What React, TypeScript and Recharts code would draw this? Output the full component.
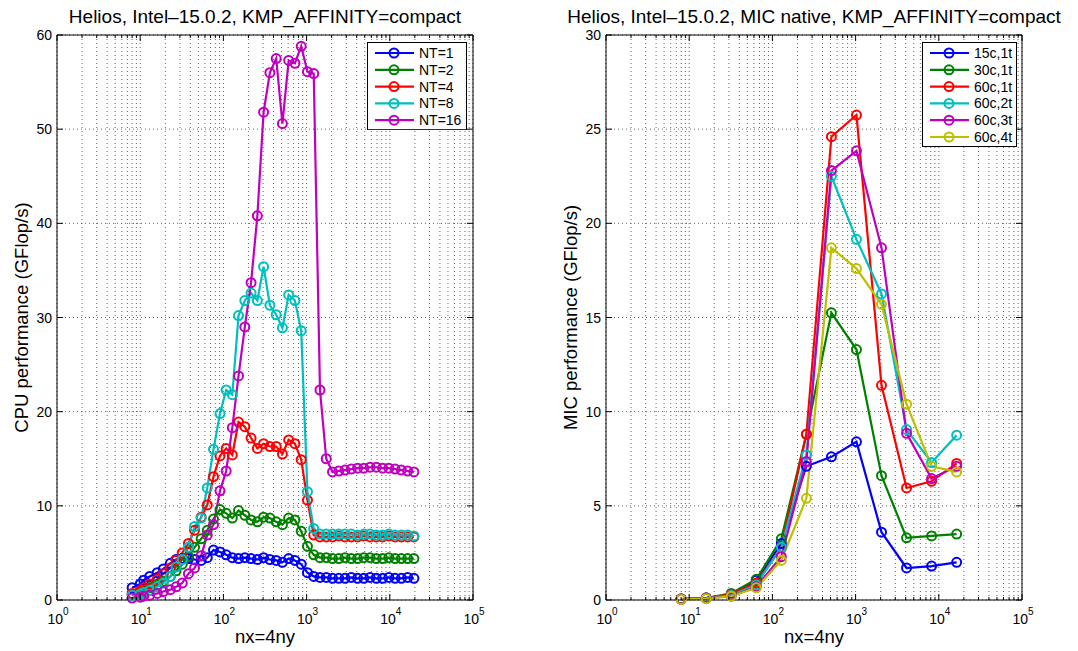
import { LineChart, Line, XAxis, YAxis, CartesianGrid, Legend } from 'recharts'

const FONT = '"Liberation Sans", Arial, Helvetica, sans-serif'

// CPU runs: nx grid (nx = 4 ny)
const cpuNx = [
  8, 10, 11, 13, 16, 19, 23, 27, 32, 38, 45, 54, 64, 76, 91, 108, 128, 152, 181, 215, 256, 304, 362, 431,
  512, 609, 724, 861, 1024, 1218, 1448, 1722, 2048, 2436, 2896, 3444, 4096, 4871, 5793, 6889, 8192, 9742,
  11585, 13777, 16384, 19484,
]
const nt1 = [
  1.3, 1.7, 2.1, 2.5, 2.9, 3.3, 3.9, 4.3, 4.4, 4.4, 4.3, 4.2, 4.5, 5.3, 5.1, 4.8, 4.5, 4.4, 4.5, 4.4, 4.3, 4.5,
  4.3, 4.2, 4.0, 4.4, 4.2, 3.8, 2.9, 2.5, 2.4, 2.4, 2.3, 2.3, 2.3, 2.4, 2.3, 2.3, 2.4, 2.3, 2.3, 2.4, 2.3, 2.3,
  2.4, 2.3,
]
const nt2 = [
  0.6, 0.8, 1.0, 1.3, 1.6, 2.0, 2.5, 3.1, 3.8, 4.6, 5.6, 6.5, 7.4, 8.6, 9.6, 9.2, 8.7, 9.5, 9.0, 8.5, 8.3, 8.8,
  8.7, 8.3, 8.0, 8.7, 8.5, 7.3, 5.7, 4.8, 4.5, 4.5, 4.4, 4.4, 4.5, 4.4, 4.4, 4.5, 4.5, 4.4, 4.4, 4.5, 4.4, 4.4,
  4.4, 4.4,
]
const nt4 = [
  0.7, 1.0, 1.3, 1.7, 2.2, 2.8, 3.4, 4.2, 5.0, 6.0, 7.4, 8.8, 10.1, 13.1, 15.3, 16.1, 15.4, 18.9, 18.4, 17.2,
  16.1, 16.6, 16.3, 16.3, 15.5, 17.0, 16.6, 14.9, 10.6, 6.9, 6.7, 6.7, 6.7, 6.8, 6.7, 6.7, 6.7, 6.8, 6.7, 6.7,
  6.7, 6.8, 6.7, 6.7, 6.7, 6.7,
]
const nt8 = [
  0.5, 0.6, 0.8, 1.0, 1.4, 1.8, 2.5, 3.5, 4.3, 5.6, 7.8, 8.7, 11.9, 16.0, 19.8, 22.3, 21.8, 30.2, 31.8, 32.6,
  31.8, 35.4, 31.3, 30.3, 28.9, 32.4, 31.8, 28.6, 11.5, 7.6, 7.0, 7.0, 7.0, 7.0, 7.0, 7.0, 6.9, 7.0, 7.0, 6.9,
  6.9, 7.0, 6.9, 6.9, 6.9, 6.8,
]
const nt16 = [
  0.2, 0.3, 0.4, 0.5, 0.7, 0.9, 1.1, 1.4, 1.8, 2.8, 3.4, 4.7, 6.9, 8.0, 11.6, 13.7, 18.3, 23.8, 29.0, 33.7,
  40.8, 51.8, 56.0, 57.5, 50.6, 57.3, 57.0, 58.8, 56.1, 55.9, 22.3, 15.0, 13.6, 13.7, 13.8, 13.9, 14.0, 14.0,
  14.1, 14.1, 14.0, 14.0, 13.9, 13.8, 13.7, 13.6,
]

// MIC native runs
const micNx = [8, 16, 32, 64, 128, 256, 512, 1024, 2048, 4096, 8192, 16384]
const c15t1 = [0.05, 0.1, 0.3, 1.05, 3.0, 7.1, 7.6, 8.4, 3.6, 1.7, 1.8, 2.0]
const c30t1 = [0.05, 0.1, 0.35, 1.1, 3.25, 8.8, 15.25, 13.3, 6.6, 3.3, 3.4, 3.5]
const c60t1 = [0.05, 0.1, 0.3, 0.9, 2.8, 8.8, 24.6, 25.75, 11.4, 5.95, 6.3, 7.25]
const c60t2 = [0.05, 0.1, 0.25, 0.8, 2.8, 7.7, 22.5, 19.15, 16.25, 9.05, 7.3, 8.75]
const c60t3 = [0.05, 0.1, 0.2, 0.7, 2.3, 7.35, 22.8, 23.85, 18.7, 8.85, 6.45, 7.1]
const c60t4 = [0.03, 0.07, 0.2, 0.65, 2.1, 5.4, 18.7, 17.6, 15.7, 10.4, 7.1, 6.8]

const decades = [1, 10, 100, 1000, 10000, 100000]
const xTicks = [
  1, 2, 3, 4, 5, 6, 7, 8, 9, 10, 20, 30, 40, 50, 60, 70, 80, 90, 100, 200, 300, 400, 500, 600, 700, 800, 900,
  1000, 2000, 3000, 4000, 5000, 6000, 7000, 8000, 9000, 10000, 20000, 30000, 40000, 50000, 60000, 70000, 80000,
  90000, 100000,
]
const cpuYTicks = [0, 10, 20, 30, 40, 50, 60]
const micYTicks = [0, 5, 10, 15, 20, 25, 30]

const cpuSeries = [
  { key: 'nt1', name: 'NT=1', color: '#0000ff', values: nt1 },
  { key: 'nt2', name: 'NT=2', color: '#008000', values: nt2 },
  { key: 'nt4', name: 'NT=4', color: '#ff0000', values: nt4 },
  { key: 'nt8', name: 'NT=8', color: '#00bfbf', values: nt8 },
  { key: 'nt16', name: 'NT=16', color: '#bf00bf', values: nt16 },
]
const micSeries = [
  { key: 'a', name: '15c,1t', color: '#0000ff', values: c15t1 },
  { key: 'b', name: '30c,1t', color: '#008000', values: c30t1 },
  { key: 'c', name: '60c,1t', color: '#ff0000', values: c60t1 },
  { key: 'd', name: '60c,2t', color: '#00bfbf', values: c60t2 },
  { key: 'e', name: '60c,3t', color: '#bf00bf', values: c60t3 },
  { key: 'f', name: '60c,4t', color: '#bfbf00', values: c60t4 },
]

const cpuData = cpuNx.map((x, i) => {
  const row: Record<string, number> = { x }
  cpuSeries.forEach((s) => (row[s.key] = s.values[i]))
  return row
})
const micData = micNx.map((x, i) => {
  const row: Record<string, number> = { x }
  micSeries.forEach((s) => (row[s.key] = s.values[i]))
  return row
})

const isDecade = (v: number) => decades.includes(v)

function BottomTick({ x, y, payload }: any) {
  const v = payload.value
  const major = isDecade(v)
  return (
    <g>
      <line x1={x} x2={x} y1={y} y2={y - (major ? 6 : 3)} stroke="#000" />
      {major && (
        <text x={x + 1} y={y + 24} textAnchor="middle" fontSize={14} fill="#000" fontFamily={FONT}>
          10
          <tspan dy={-9} fontSize={10}>
            {Math.round(Math.log10(v))}
          </tspan>
        </text>
      )}
    </g>
  )
}

function TopTick({ x, y, payload }: any) {
  const major = isDecade(payload.value)
  return <line x1={x} x2={x} y1={y} y2={y + (major ? 6 : 3)} stroke="#000" />
}

function LeftTick({ x, y, payload }: any) {
  return (
    <g>
      <line x1={x} x2={x + 6} y1={y} y2={y} stroke="#000" />
      <text x={x - 5} y={y + 5} textAnchor="end" fontSize={14} fill="#000" fontFamily={FONT}>
        {payload.value}
      </text>
    </g>
  )
}

function RightTick({ x, y }: any) {
  return <line x1={x} x2={x - 6} y1={y} y2={y} stroke="#000" />
}

// legend drawn in plotting order (recharts would sort the entries by name)
function LegendBox({ series, width }: { series: { name: string; color: string }[]; width: number }) {
  const rowH = 16.8
  const h = 21 + (series.length - 1) * rowH
  return (
    <svg width={width} height={h} style={{ display: 'block' }}>
      <rect x={0.5} y={0.5} width={width - 1} height={h - 1} fill="#fff" stroke="#000" />
      {series.map((s, i) => {
        const cy = 11 + i * rowH
        return (
          <g key={s.name}>
            <line x1={8} x2={47} y1={cy} y2={cy} stroke={s.color} strokeWidth={2.2} />
            <circle cx={27} cy={cy} r={4.5} fill="none" stroke={s.color} strokeWidth={2} />
            <text x={52} y={cy + 5} fontSize={14} fill="#000" fontFamily={FONT}>
              {s.name}
            </text>
          </g>
        )
      })}
    </svg>
  )
}

interface PanelProps {
  data: Record<string, number>[]
  series: { key: string; name: string; color: string }[]
  yTicks: number[]
  yMax: number
  title: string
  yLabel: string
  left: number
  yAxisWidth: number
  legendLeft: number
  legendWidth: number
}

function Panel({ data, series, yTicks, yMax, title, yLabel, left, yAxisWidth, legendLeft, legendWidth }: PanelProps) {
  const width = 540
  const plotRight = left === 0 ? 473 : 1022 - left
  return (
    <div style={{ position: 'absolute', left, top: 0 }}>
      <LineChart
        width={width}
        height={651}
        data={data}
        margin={{ top: 34, right: width - plotRight - 1, bottom: 0, left: 0 }}
        style={{ overflow: 'visible' }}
      >
        <CartesianGrid stroke="#666" strokeDasharray="1 3" />
        <XAxis
          dataKey="x"
          type="number"
          scale="log"
          domain={[1, 100000]}
          ticks={xTicks}
          interval={0}
          height={51}
          tickSize={0}
          tickMargin={0}
          tickLine={false}
          axisLine={{ stroke: '#000' }}
          tick={<BottomTick />}
          label={{ value: 'nx=4ny', position: 'insideBottom', offset: 8, fontSize: 18.5, fill: '#000', fontFamily: FONT }}
        />
        <XAxis
          xAxisId="top"
          orientation="top"
          dataKey="x"
          type="number"
          scale="log"
          domain={[1, 100000]}
          allowDataOverflow
          ticks={xTicks}
          interval={0}
          height={1}
          tickSize={0}
          tickMargin={0}
          tickLine={false}
          axisLine={{ stroke: '#000' }}
          tick={<TopTick />}
          label={{ value: title, position: 'top', offset: 11, fontSize: 19, fill: '#000', fontFamily: FONT }}
        />
        <YAxis
          type="number"
          domain={[0, yMax]}
          ticks={yTicks}
          interval={0}
          width={yAxisWidth}
          tickSize={0}
          tickMargin={0}
          tickLine={false}
          axisLine={{ stroke: '#000' }}
          tick={<LeftTick />}
          label={{
            value: yLabel,
            angle: -90,
            position: 'insideLeft',
            offset: yAxisWidth - 36,
            fontSize: 18.5,
            fill: '#000',
            fontFamily: FONT,
            style: { textAnchor: 'middle' },
          }}
        />
        <YAxis
          yAxisId="right"
          orientation="right"
          type="number"
          domain={[0, yMax]}
          allowDataOverflow
          ticks={yTicks}
          interval={0}
          width={1}
          tickSize={0}
          tickMargin={0}
          tickLine={false}
          axisLine={{ stroke: '#000' }}
          tick={<RightTick />}
        />
        <Legend
          layout="vertical"
          align="center"
          verticalAlign="middle"
          wrapperStyle={{ left: legendLeft, top: 42, width: legendWidth }}
          content={() => <LegendBox series={series} width={legendWidth} />}
        />
        {series.map((s) => (
          <Line
            key={s.key}
            dataKey={s.key}
            name={s.name}
            stroke={s.color}
            strokeWidth={2.2}
            dot={{ r: 4.5, stroke: s.color, strokeWidth: 2, fill: 'none' }}
            activeDot={false}
            isAnimationActive={false}
          />
        ))}
      </LineChart>
    </div>
  )
}

export default function App() {
  return (
    <div style={{ position: 'absolute', left: 0, top: 0, width: 1078, height: 651, background: '#fff', fontFamily: FONT }}>
      <Panel
        data={cpuData}
        series={cpuSeries}
        yTicks={cpuYTicks}
        yMax={60}
        title="Helios, Intel–15.0.2, KMP_AFFINITY=compact"
        yLabel="CPU performance (GFlop/s)"
        left={0}
        yAxisWidth={57}
        legendLeft={367}
        legendWidth={100}
      />
      <Panel
        data={micData}
        series={micSeries}
        yTicks={micYTicks}
        yMax={30}
        title="Helios, Intel–15.0.2, MIC native, KMP_AFFINITY=compact"
        yLabel="MIC performance (GFlop/s)"
        left={540}
        yAxisWidth={66}
        legendLeft={382}
        legendWidth={95}
      />
    </div>
  )
}
